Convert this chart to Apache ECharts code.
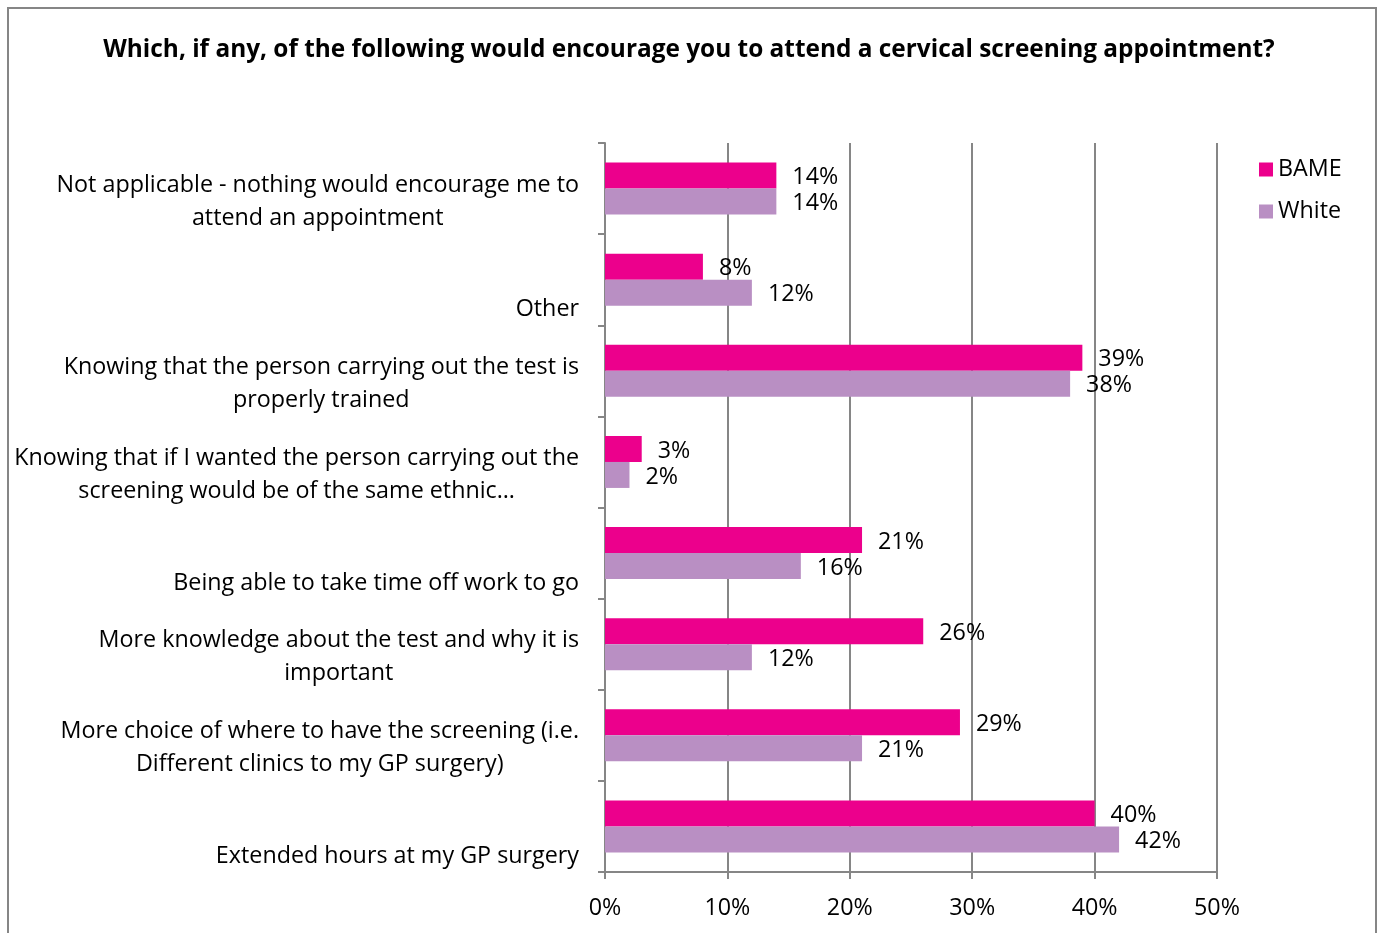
<!DOCTYPE html>
<html>
<head>
<meta charset="utf-8">
<style>
  html, body { margin: 0; padding: 0; background: #fff; }
  #chart { width: 1378px; height: 933px; }
</style>
<script src="https://cdn.jsdelivr.net/npm/echarts@6/dist/echarts.min.js"></script>
</head>
<body>
<div id="chart"></div>
<script>
// Survey answers, listed top to bottom as drawn
const categories = [
  ['Not applicable - nothing would encourage me to', 'attend an appointment'],
  ['Other'],
  ['Knowing that the person carrying out the test is', 'properly trained'],
  ['Knowing that if I wanted the person carrying out the', 'screening would be of the same ethnic…'],
  ['Being able to take time off work to go'],
  ['More knowledge about the test and why it is', 'important'],
  ['More choice of where to have the screening (i.e.', 'Different clinics to my GP surgery)'],
  ['Extended hours at my GP surgery']
];
const bameValues = [14, 8, 39, 3, 21, 26, 29, 40];
const whiteValues = [14, 12, 38, 2, 16, 12, 21, 42];
const xTicks = [0, 10, 20, 30, 40, 50];

const FONT = '"Open Sans", sans-serif';
const FS = 23.3;
const titleText = 'Which, if any, of the following would encourage you to attend a cervical screening appointment?';

// Each wrapped label is centred line by line; single-line labels sit lower in their band
const yData = categories.map(lines => ({
  value: lines.join(' '),
  textStyle: { padding: [lines.length > 1 ? 26 : 60, 0, 0, 0] }
}));

const valueLabel = {
  show: true, position: 'right', distance: 16, offset: [0, 2],
  fontFamily: FONT, fontSize: FS, color: '#000',
  formatter: p => p.value + '%'
};

const chart = echarts.init(document.getElementById('chart'), null, { renderer: 'canvas' });
chart.setOption({
  animation: false,
  backgroundColor: '#fff',
  textStyle: { fontFamily: FONT },
  title: {
    text: titleText,
    left: 'center',
    top: 33,
    textStyle: { fontFamily: FONT, fontWeight: 'bold', fontSize: 24.4, color: '#000' }
  },
  legend: {
    orient: 'vertical',
    left: 1254,
    top: 153,
    itemWidth: 14,
    itemHeight: 14,
    itemGap: 19,
    icon: 'rect',
    textStyle: { fontFamily: FONT, fontSize: FS, color: '#000' },
    data: ['BAME', 'White']
  },
  graphic: [{
    type: 'rect',
    shape: { x: 8, y: 8, width: 1368, height: 960 },
    style: { fill: 'none', stroke: '#868686', lineWidth: 2 },
    silent: true
  }],
  grid: { left: 605, right: 161, top: 143, bottom: 61, containLabel: false },
  xAxis: {
    type: 'value',
    min: xTicks[0],
    max: xTicks[xTicks.length - 1],
    interval: 10,
    axisLine: { show: true, lineStyle: { color: '#868686', width: 2 } },
    axisTick: { show: true, length: 7, inside: false, lineStyle: { color: '#868686', width: 2 } },
    splitLine: { show: true, lineStyle: { color: '#868686', width: 2 } },
    axisLabel: {
      margin: 25,
      fontFamily: FONT,
      fontSize: FS,
      color: '#000',
      formatter: v => v + '%'
    }
  },
  yAxis: {
    type: 'category',
    inverse: true,
    data: yData,
    axisLine: { show: true, lineStyle: { color: '#868686', width: 2 } },
    axisTick: { show: true, length: 7, lineStyle: { color: '#868686', width: 2 } },
    axisLabel: {
      interval: 0,
      showMinLabel: true,
      showMaxLabel: true,
      hideOverlap: false,
      margin: 26,
      fontFamily: FONT,
      fontSize: FS,
      color: '#000',
      lineHeight: 33,
      formatter: (value, idx) => categories[idx].map(l => '{c|' + l + '}').join('\n'),
      rich: {
        c: { align: 'center', fontFamily: FONT, fontSize: FS, color: '#000', lineHeight: 33 }
      }
    }
  },
  series: [
    {
      name: 'BAME',
      type: 'bar',
      data: bameValues,
      barWidth: 26,
      barGap: '0%',
      itemStyle: { color: '#EC008C' },
      label: valueLabel
    },
    {
      name: 'White',
      type: 'bar',
      data: whiteValues,
      barWidth: 26,
      barGap: '0%',
      itemStyle: { color: '#B98FC3' },
      label: valueLabel
    }
  ]
});
</script>
</body>
</html>
